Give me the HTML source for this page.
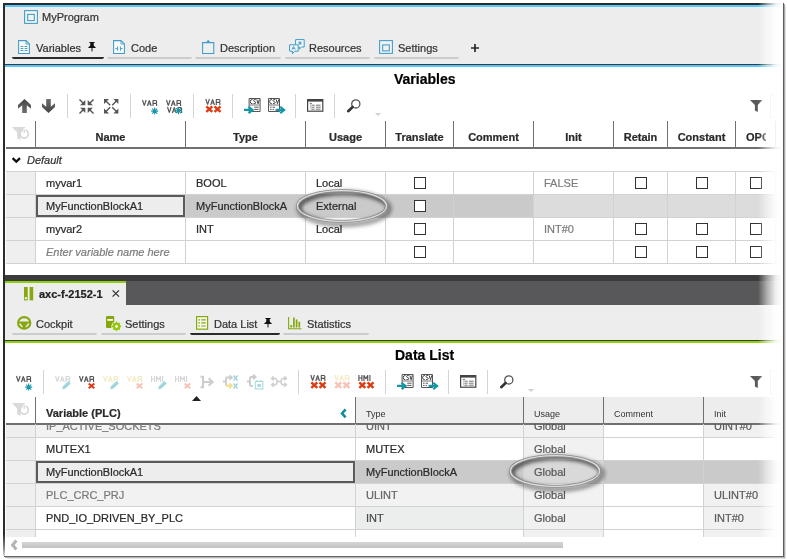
<!DOCTYPE html>
<html>
<head>
<meta charset="utf-8">
<title>PLCnext Engineer</title>
<style>
*{box-sizing:border-box;margin:0;padding:0}
html,body{width:787px;height:560px;overflow:hidden;background:#fff}
body{font-family:"Liberation Sans",sans-serif;font-size:11px;color:#333;position:relative}
.abs{position:absolute}
#frame{position:absolute;left:0;top:0;width:787px;height:560px;overflow:hidden;will-change:transform}
.t{position:absolute;white-space:nowrap;line-height:14px;-webkit-text-stroke:0.22px currentColor}
.b{font-weight:bold}
.i{font-style:italic}
.hl{position:absolute;height:1px;background:#d2d2d2}
.vl{position:absolute;width:1px;background:#d2d2d2}
.cb{position:absolute;width:12px;height:12px;border:1px solid #333;background:#fff}
.tabul{position:absolute;height:2px;background:#c9cdd0;border-radius:0 0 3px 3px}
.tabul.on{background:#2b2b2b}
.sep{position:absolute;width:1px;background:#d4d4d4}
svg{position:absolute;overflow:visible}
</style>
</head>
<body>
<div id="frame">

<!-- ===== TOP PANEL ===== -->
<div class="abs" style="left:5px;top:7px;width:778px;height:57px;background:#ecedec"></div>
<div class="abs" style="left:3px;top:3px;width:779px;height:2px;background:#2b2b2b"></div>
<div class="abs" style="left:5px;top:5px;width:778px;height:2px;background:#58c8fc"></div>
<div class="abs" style="left:5px;top:64px;width:778px;height:1px;background:#3a3a3a"></div>
<div class="abs" style="left:5px;top:65px;width:778px;height:2px;background:#54c6fb"></div>

<!-- title -->
<div class="t" style="left:42px;top:10px;font-size:11px">MyProgram</div>

<!-- tabs -->
<div class="t" style="left:36px;top:41px;font-size:11px">Variables</div>
<div class="tabul on" style="left:12px;top:57px;width:92px"></div>
<div class="t" style="left:131px;top:41px;font-size:11px">Code</div>
<div class="tabul" style="left:107px;top:57px;width:85px"></div>
<div class="t" style="left:220px;top:41px;font-size:11px">Description</div>
<div class="tabul" style="left:195px;top:57px;width:86px"></div>
<div class="t" style="left:309px;top:41px;font-size:11px">Resources</div>
<div class="tabul" style="left:285px;top:57px;width:85px"></div>
<div class="t" style="left:398px;top:41px;font-size:11px">Settings</div>
<div class="tabul" style="left:374px;top:57px;width:85px"></div>

<!-- Variables title -->
<div class="t b" style="left:394px;top:71px;font-size:14px;line-height:16px;color:#000">Variables</div>

<!-- ===== TOP TABLE ===== -->
<div class="abs" style="left:6px;top:172px;width:29px;height:91px;background:#efefef"></div>
<div class="abs" style="left:186px;top:195px;width:348px;height:22px;background:#cacaca"></div>
<div class="abs" style="left:534px;top:195px;width:248px;height:22px;background:#dcdcdc"></div>
<div class="abs" style="left:36px;top:195px;width:149px;height:22px;background:#ecedec;border:2px solid #5a5a5a"></div>
<div class="vl" style="left:35px;top:121px;height:27px;background:#707070"></div>
<div class="vl" style="left:185px;top:121px;height:27px;background:#707070"></div>
<div class="vl" style="left:305px;top:121px;height:27px;background:#707070"></div>
<div class="vl" style="left:385px;top:121px;height:27px;background:#707070"></div>
<div class="vl" style="left:453px;top:121px;height:27px;background:#707070"></div>
<div class="vl" style="left:533px;top:121px;height:27px;background:#707070"></div>
<div class="vl" style="left:613px;top:121px;height:27px;background:#707070"></div>
<div class="vl" style="left:667px;top:121px;height:27px;background:#707070"></div>
<div class="vl" style="left:735px;top:121px;height:27px;background:#707070"></div>
<div class="vl" style="left:775px;top:121px;height:27px;background:#707070"></div>
<div class="abs" style="left:6px;top:147px;width:777px;height:2px;background:#707070"></div>
<div class="hl" style="left:6px;top:171px;width:777px"></div>
<div class="hl" style="left:6px;top:194px;width:777px"></div>
<div class="hl" style="left:6px;top:217px;width:777px"></div>
<div class="hl" style="left:6px;top:240px;width:777px"></div>
<div class="hl" style="left:6px;top:263px;width:777px"></div>
<div class="vl" style="left:35px;top:172px;height:92px"></div>
<div class="vl" style="left:185px;top:172px;height:92px"></div>
<div class="vl" style="left:305px;top:172px;height:92px"></div>
<div class="vl" style="left:385px;top:172px;height:92px"></div>
<div class="vl" style="left:453px;top:172px;height:92px"></div>
<div class="vl" style="left:533px;top:172px;height:92px"></div>
<div class="vl" style="left:613px;top:172px;height:92px"></div>
<div class="vl" style="left:667px;top:172px;height:92px"></div>
<div class="vl" style="left:735px;top:172px;height:92px"></div>
<div class="vl" style="left:775px;top:172px;height:92px"></div>
<div class="t b" style="left:36px;width:149px;top:130px;text-align:center;color:#2a2a2a">Name</div>
<div class="t b" style="left:186px;width:119px;top:130px;text-align:center;color:#2a2a2a">Type</div>
<div class="t b" style="left:306px;width:79px;top:130px;text-align:center;color:#2a2a2a">Usage</div>
<div class="t b" style="left:386px;width:67px;top:130px;text-align:center;color:#2a2a2a">Translate</div>
<div class="t b" style="left:454px;width:79px;top:130px;text-align:center;color:#2a2a2a">Comment</div>
<div class="t b" style="left:534px;width:79px;top:130px;text-align:center;color:#2a2a2a">Init</div>
<div class="t b" style="left:614px;width:53px;top:130px;text-align:center;color:#2a2a2a">Retain</div>
<div class="t b" style="left:668px;width:67px;top:130px;text-align:center;color:#2a2a2a">Constant</div>
<div class="t b" style="left:746px;width:20px;overflow:hidden;top:130px;color:#2a2a2a">OPC</div>
<div class="t i" style="left:27px;top:153px;color:#333">Default</div>
<svg style="left:12px;top:157px" width="9" height="7" viewBox="0 0 9 7"><path d="M0.6 1.2 L4.3 4.6 L8 1.2" fill="none" stroke="#111" stroke-width="2.3"/></svg>
<div class="t" style="left:46px;top:176px;color:#2a2a2a">myvar1</div>
<div class="t" style="left:196px;top:176px;color:#2a2a2a">BOOL</div>
<div class="t" style="left:316px;top:176px;color:#2a2a2a">Local</div>
<div class="t" style="left:544px;top:176px;color:#7d7d7d">FALSE</div>
<div class="cb" style="left:414px;top:177px"></div>
<div class="cb" style="left:635px;top:177px"></div>
<div class="cb" style="left:696px;top:177px"></div>
<div class="cb" style="left:750px;top:177px"></div>
<div class="t" style="left:46px;top:199px;color:#2a2a2a">MyFunctionBlockA1</div>
<div class="t" style="left:196px;top:199px;color:#2a2a2a">MyFunctionBlockA</div>
<div class="t" style="left:316px;top:199px;color:#2a2a2a">External</div>
<div class="cb" style="left:414px;top:200px"></div>
<div class="t" style="left:46px;top:222px;color:#2a2a2a">myvar2</div>
<div class="t" style="left:196px;top:222px;color:#2a2a2a">INT</div>
<div class="t" style="left:316px;top:222px;color:#2a2a2a">Local</div>
<div class="t" style="left:544px;top:222px;color:#7d7d7d">INT#0</div>
<div class="cb" style="left:414px;top:223px"></div>
<div class="cb" style="left:635px;top:223px"></div>
<div class="cb" style="left:696px;top:223px"></div>
<div class="cb" style="left:750px;top:223px"></div>
<div class="t i" style="left:46px;top:245px;color:#7d7d7d">Enter variable name here</div>
<div class="cb" style="left:414px;top:246px"></div>
<div class="cb" style="left:635px;top:246px"></div>
<div class="cb" style="left:696px;top:246px"></div>
<div class="cb" style="left:750px;top:246px"></div>

<!-- ===== BOTTOM PANEL ===== -->
<div class="abs" style="left:5px;top:275px;width:778px;height:6px;background:#3b3b3d"></div>
<div class="abs" style="left:5px;top:281px;width:778px;height:24px;background:#58585a"></div>
<div class="abs" style="left:5px;top:305px;width:778px;height:35px;background:#ecedec"></div>
<div class="abs" style="left:5px;top:281px;width:121px;height:25px;background:#ecedec;border-top:2px solid #8ccf0a"></div>
<div class="abs" style="left:5px;top:340px;width:778px;height:1px;background:#3a3a3a"></div>
<div class="abs" style="left:5px;top:341px;width:778px;height:2px;background:#8fd400"></div>

<div class="t b" style="left:39px;top:287px;font-size:11px;color:#222">axc-f-2152-1</div>
<div class="t" style="left:36px;top:317px;font-size:11px">Cockpit</div>
<div class="tabul" style="left:12px;top:333px;width:85px"></div>
<div class="t" style="left:125px;top:317px;font-size:11px">Settings</div>
<div class="tabul" style="left:101px;top:333px;width:85px"></div>
<div class="t" style="left:214px;top:317px;font-size:11px">Data List</div>
<div class="tabul on" style="left:190px;top:333px;width:90px"></div>
<div class="t" style="left:307px;top:317px;font-size:11px">Statistics</div>
<div class="tabul" style="left:283px;top:333px;width:86px"></div>

<div class="t b" style="left:395px;top:347px;font-size:14px;line-height:16px;color:#000">Data List</div>

<!-- ===== BOTTOM TABLE ===== -->
<div class="abs" style="left:356px;top:397px;width:426px;height:26px;background:#ecedec"></div>
<div class="abs" style="left:6px;top:425px;width:29px;height:112px;background:#efefef"></div>
<div class="abs" style="left:36px;top:424px;width:567px;height:13px;background:#f2f2f2"></div>
<div class="abs" style="left:704px;top:424px;width:78px;height:13px;background:#f0f1f0"></div>
<div class="abs" style="left:524px;top:424px;width:79px;height:113px;background:#f0f1f0"></div>
<div class="abs" style="left:36px;top:484px;width:567px;height:22px;background:#f2f2f2"></div>
<div class="abs" style="left:704px;top:484px;width:78px;height:22px;background:#f0f1f0"></div>
<div class="abs" style="left:704px;top:507px;width:78px;height:22px;background:#f0f1f0"></div>
<div class="abs" style="left:704px;top:530px;width:78px;height:7px;background:#f0f1f0"></div>
<div class="abs" style="left:356px;top:507px;width:167px;height:22px;background:#eceeed"></div>
<div class="abs" style="left:356px;top:461px;width:426px;height:22px;background:#cacaca"></div>
<div class="abs" style="left:524px;top:461px;width:79px;height:22px;background:#d9d9d9"></div>
<div class="abs" style="left:36px;top:461px;width:319px;height:22px;background:#ecedec;border:2px solid #5a5a5a"></div>
<div class="vl" style="left:35px;top:397px;height:26px;background:#707070"></div>
<div class="vl" style="left:355px;top:397px;height:26px;background:#707070"></div>
<div class="vl" style="left:523px;top:397px;height:26px;background:#707070"></div>
<div class="vl" style="left:603px;top:397px;height:26px;background:#707070"></div>
<div class="vl" style="left:703px;top:397px;height:26px;background:#707070"></div>
<div class="abs" style="left:6px;top:423px;width:777px;height:2px;background:#707070"></div>
<div class="hl" style="left:6px;top:437px;width:777px"></div>
<div class="hl" style="left:6px;top:460px;width:777px"></div>
<div class="hl" style="left:6px;top:483px;width:777px"></div>
<div class="hl" style="left:6px;top:506px;width:777px"></div>
<div class="hl" style="left:6px;top:529px;width:777px"></div>
<div class="vl" style="left:35px;top:424px;height:113px"></div>
<div class="vl" style="left:355px;top:424px;height:113px"></div>
<div class="vl" style="left:523px;top:424px;height:113px"></div>
<div class="vl" style="left:603px;top:424px;height:113px"></div>
<div class="vl" style="left:703px;top:424px;height:113px"></div>
<div class="t b" style="left:46px;top:406px;color:#2a2a2a">Variable (PLC)</div>
<div class="t" style="left:366px;top:407px;font-size:9px;color:#333;-webkit-text-stroke:0">Type</div>
<div class="t" style="left:534px;top:407px;font-size:9px;color:#333;-webkit-text-stroke:0">Usage</div>
<div class="t" style="left:614px;top:407px;font-size:9px;color:#333;-webkit-text-stroke:0">Comment</div>
<div class="t" style="left:714px;top:407px;font-size:9px;color:#333;-webkit-text-stroke:0">Init</div>
<svg style="left:191.5px;top:396.4px" width="9" height="5" viewBox="0 0 9 5"><path d="M0 5 L4.5 0 L9 5Z" fill="#222"/></svg>
<svg style="left:339.6px;top:409.4px" width="7" height="9" viewBox="0 0 7 9"><path d="M5.6 0.4 L2 4.4 L5.6 8.4" fill="none" stroke="#0f8c99" stroke-width="2.5"/></svg>
<div class="abs" style="left:5px;top:424px;width:778px;height:113px;overflow:hidden">
<div class="t" style="left:41px;top:-5px;color:#7a7a7a">IP_ACTIVE_SOCKETS</div>
<div class="t" style="left:361px;top:-5px;color:#666">UINT</div>
<div class="t" style="left:529px;top:-5px;color:#585858">Global</div>
<div class="t" style="left:709px;top:-5px;color:#5c5c5c">UINT#0</div>
<div class="t" style="left:41px;top:18px;color:#2a2a2a">MUTEX1</div>
<div class="t" style="left:361px;top:18px;color:#2a2a2a">MUTEX</div>
<div class="t" style="left:529px;top:18px;color:#585858">Global</div>
<div class="t" style="left:41px;top:41px;color:#2a2a2a">MyFunctionBlockA1</div>
<div class="t" style="left:361px;top:41px;color:#2a2a2a">MyFunctionBlockA</div>
<div class="t" style="left:529px;top:41px;color:#585858">Global</div>
<div class="t" style="left:41px;top:64px;color:#7a7a7a">PLC_CRC_PRJ</div>
<div class="t" style="left:361px;top:64px;color:#666">ULINT</div>
<div class="t" style="left:529px;top:64px;color:#585858">Global</div>
<div class="t" style="left:709px;top:64px;color:#5c5c5c">ULINT#0</div>
<div class="t" style="left:41px;top:87px;color:#2a2a2a">PND_IO_DRIVEN_BY_PLC</div>
<div class="t" style="left:361px;top:87px;color:#4a4a4a">INT</div>
<div class="t" style="left:529px;top:87px;color:#585858">Global</div>
<div class="t" style="left:709px;top:87px;color:#5c5c5c">INT#0</div>
</div>
<div class="abs" style="left:22px;top:542px;width:541px;height:6px;background:linear-gradient(#d6d6d6,#c2c2c2)"></div>
<svg style="left:10px;top:540px" width="8" height="10" viewBox="0 0 8 10"><path d="M6.4 0.6 L2.6 5 L6.4 9.4" fill="none" stroke="#b4b4b4" stroke-width="3"/></svg>
<div class="abs" style="left:4px;top:556px;width:780px;height:1px;background:#666"></div><div class="abs" style="left:5px;top:557px;width:780px;height:1px;background:#b4b4b4"></div><div class="abs" style="left:7px;top:558px;width:779px;height:1px;background:#e6e6e6"></div>
<div class="abs" style="left:783px;top:3px;width:1px;height:554px;background:#5c5c5c"></div><div class="abs" style="left:784px;top:4px;width:1px;height:554px;background:#a8a8a8"></div><div class="abs" style="left:785px;top:6px;width:1px;height:553px;background:#e2e2e2"></div>

<!-- ICONS-BEGIN -->
<svg width="0" height="0" style="left:0;top:0"><defs><linearGradient id="gArrow" x1="0" y1="0" x2="0" y2="1"><stop offset="0" stop-color="#454545"/><stop offset="1" stop-color="#6e6e6e"/></linearGradient></defs></svg>
<svg style="left:17.5px;top:99px" width="13" height="14" viewBox="0 0 13 14" ><path d="M6.5,0 L13,6 L13,9.8 L8.8,6.2 L8.8,14 L4.2,14 L4.2,6.2 L0,9.8 L0,6 Z" fill="url(#gArrow)"/></svg>
<svg style="left:41.5px;top:99px" width="13" height="14" viewBox="0 0 13 14" ><g transform="translate(0,14) scale(1,-1)"><path d="M6.5,0 L13,6 L13,9.8 L8.8,6.2 L8.8,14 L4.2,14 L4.2,6.2 L0,9.8 L0,6 Z" fill="url(#gArrow)"/></g></svg>
<div class="sep" style="left:67px;top:94px;height:24px"></div>
<svg style="left:79.3px;top:98.5px" width="15" height="15" viewBox="0 0 15 15" ><g transform="translate(7.5,7.5) scale(1,1)"><path d="M-7,-7 L-2,-2" stroke="#555" stroke-width="1.4"/><path d="M-1.2,-6.4 V-1.2 H-6.4 Z" fill="#555"/></g><g transform="translate(7.5,7.5) scale(-1,1)"><path d="M-7,-7 L-2,-2" stroke="#555" stroke-width="1.4"/><path d="M-1.2,-6.4 V-1.2 H-6.4 Z" fill="#555"/></g><g transform="translate(7.5,7.5) scale(1,-1)"><path d="M-7,-7 L-2,-2" stroke="#555" stroke-width="1.4"/><path d="M-1.2,-6.4 V-1.2 H-6.4 Z" fill="#555"/></g><g transform="translate(7.5,7.5) scale(-1,-1)"><path d="M-7,-7 L-2,-2" stroke="#555" stroke-width="1.4"/><path d="M-1.2,-6.4 V-1.2 H-6.4 Z" fill="#555"/></g></svg>
<svg style="left:103.8px;top:98.8px" width="15" height="15" viewBox="0 0 15 15" ><g transform="translate(7.2,7.2) scale(1,1)"><path d="M-1,-1 L-6,-6" stroke="#555" stroke-width="1.4"/><path d="M-7.2,-2.2 V-7.2 H-2.2 Z" fill="#555"/></g><g transform="translate(7.2,7.2) scale(-1,1)"><path d="M-1,-1 L-6,-6" stroke="#555" stroke-width="1.4"/><path d="M-7.2,-2.2 V-7.2 H-2.2 Z" fill="#555"/></g><g transform="translate(7.2,7.2) scale(1,-1)"><path d="M-1,-1 L-6,-6" stroke="#555" stroke-width="1.4"/><path d="M-7.2,-2.2 V-7.2 H-2.2 Z" fill="#555"/></g><g transform="translate(7.2,7.2) scale(-1,-1)"><path d="M-1,-1 L-6,-6" stroke="#555" stroke-width="1.4"/><path d="M-7.2,-2.2 V-7.2 H-2.2 Z" fill="#555"/></g></svg>
<div class="sep" style="left:130px;top:94px;height:24px"></div>
<svg style="left:142px;top:100px" width="17" height="15" viewBox="0 0 17 15" ><path d="M0.5,0 L2.3,5.6 L4.1,0 M5.4,6 L7.3,0.4 L9.2,6 M6.1,4 L8.5,4 M11,6 L11,0.5 L13.6,0.5 Q14.6,0.5 14.6,1.5 L14.6,2.3 Q14.6,3.3 13.6,3.3 L11,3.3 M13.6,3.3 Q14.6,3.3 14.6,4.3 L14.6,6" fill="none" stroke="#555" stroke-width="1.15" stroke-linejoin="bevel"/><g transform="translate(9.2,7.6)"><g stroke="#1496a6" stroke-width="1.1" fill="none"><path d="M3.5,0 L3.5,7 M0,3.5 L7,3.5 M1,1 L6,6 M6,1 L1,6"/></g><circle cx="3.5" cy="3.5" r="1.3" fill="#1496a6"/></g></svg>
<svg style="left:166px;top:100px" width="17" height="15" viewBox="0 0 17 15" ><path d="M0.5,0 L2.3,5.6 L4.1,0 M5.4,6 L7.3,0.4 L9.2,6 M6.1,4 L8.5,4 M11,6 L11,0.5 L13.6,0.5 Q14.6,0.5 14.6,1.5 L14.6,2.3 Q14.6,3.3 13.6,3.3 L11,3.3 M13.6,3.3 Q14.6,3.3 14.6,4.3 L14.6,6" fill="none" stroke="#555" stroke-width="1.15" stroke-linejoin="bevel"/><g transform="translate(1,7)"><path d="M0.5,0 L2.3,5.6 L4.1,0 M5.4,6 L7.3,0.4 L9.2,6 M6.1,4 L8.5,4 M11,6 L11,0.5 L13.6,0.5 Q14.6,0.5 14.6,1.5 L14.6,2.3 Q14.6,3.3 13.6,3.3 L11,3.3 M13.6,3.3 Q14.6,3.3 14.6,4.3 L14.6,6" fill="none" stroke="#555" stroke-width="1.15" stroke-linejoin="bevel"/></g><g transform="translate(9,7.2)"><g stroke="#1496a6" stroke-width="1.1" fill="none"><path d="M3.5,0 L3.5,7 M0,3.5 L7,3.5 M1,1 L6,6 M6,1 L1,6"/></g><circle cx="3.5" cy="3.5" r="1.3" fill="#1496a6"/></g></svg>
<div class="sep" style="left:193px;top:94px;height:24px"></div>
<svg style="left:205px;top:99.4px" width="17" height="15" viewBox="0 0 17 15" ><g transform="translate(0.3,0)"><path d="M0.5,0 L2.3,5.6 L4.1,0 M5.4,6 L7.3,0.4 L9.2,6 M6.1,4 L8.5,4 M11,6 L11,0.5 L13.6,0.5 Q14.6,0.5 14.6,1.5 L14.6,2.3 Q14.6,3.3 13.6,3.3 L11,3.3 M13.6,3.3 Q14.6,3.3 14.6,4.3 L14.6,6" fill="none" stroke="#555" stroke-width="1.15" stroke-linejoin="bevel"/></g><g transform="translate(0.6,6.6)"><path d="M0.7,0.7 L6.7,6.3 M6.7,0.7 L0.7,6.3" stroke="#e03c14" stroke-width="2.4" fill="none"/><path d="M8.899999999999999,0.7 L14.9,6.3 M14.9,0.7 L8.899999999999999,6.3" stroke="#e03c14" stroke-width="2.4" fill="none"/></g></svg>
<div class="sep" style="left:232px;top:94px;height:24px"></div>
<svg style="left:243.6px;top:97.6px" width="17" height="16" viewBox="0 0 17 16" ><g transform="translate(4.6,0)"><path d="M0.5,0.5 H11.5 V13.5 H0.5 Z" fill="#fff" stroke="#555" stroke-width="1"/><path d="M3.9,1.4 Q1.6,1.4 1.6,3.6 Q1.6,5.8 3.9,5.8 M7.2,1.6 Q5,1 5,2.6 Q5.2,3.4 6.2,3.6 Q7.4,4 7.2,5 Q6.8,6 4.9,5.6 M8.2,1.4 L9.5,5.8 L10.8,1.4" fill="none" stroke="#444" stroke-width="1"/><path d="M1,7 H11" stroke="#555" stroke-width="0.8"/><path d="M5.6,9.2 H10 M5.6,11.4 H10" stroke="#555" stroke-width="1"/></g><g transform="translate(0,8.2)"><path d="M0,3.7 H8 M4.6,0.5 L8.6,3.7 L4.6,6.9" fill="none" stroke="#1496a6" stroke-width="2.1"/></g></svg>
<svg style="left:267.6px;top:97.6px" width="17" height="16" viewBox="0 0 17 16" ><g transform="translate(0,0)"><path d="M0.5,0.5 H11.5 V13.5 H0.5 Z" fill="#fff" stroke="#555" stroke-width="1"/><path d="M3.9,1.4 Q1.6,1.4 1.6,3.6 Q1.6,5.8 3.9,5.8 M7.2,1.6 Q5,1 5,2.6 Q5.2,3.4 6.2,3.6 Q7.4,4 7.2,5 Q6.8,6 4.9,5.6 M8.2,1.4 L9.5,5.8 L10.8,1.4" fill="none" stroke="#444" stroke-width="1"/><path d="M1,7 H11" stroke="#555" stroke-width="0.8"/><path d="M2,9.2 H3.6 M4.6,9.2 H7 M2,11.4 H3.6 M4.6,11.4 H6" stroke="#555" stroke-width="1"/></g><g transform="translate(7.6,8.2)"><path d="M0,3.7 H8 M4.6,0.5 L8.6,3.7 L4.6,6.9" fill="none" stroke="#1496a6" stroke-width="2.1"/></g></svg>
<div class="sep" style="left:295px;top:94px;height:24px"></div>
<svg style="left:306.6px;top:98.6px" width="17" height="13" viewBox="0 0 17 13" ><rect x="0.6" y="0.6" width="15.2" height="11.6" fill="#fff" stroke="#444" stroke-width="1.2"/><path d="M0.6,1.6 H15.8" stroke="#444" stroke-width="2"/><path d="M2.6,4.4 H5 M4.4,6.2 H7.6 M8.8,6.2 H13.6 M4.4,8.2 H7.6 M8.8,8.2 H13.6 M4.4,10.2 H7.6 M8.8,10.2 H13.6" stroke="#666" stroke-width="0.9" fill="none"/><path d="M3.6,4.4 V10.4" stroke="#bbb" stroke-width="0.8"/></svg>
<div class="sep" style="left:334px;top:94px;height:24px"></div>
<svg style="left:347.4px;top:98.6px" width="14" height="14" viewBox="0 0 14 14" ><circle cx="8.8" cy="4.9" r="4.1" fill="#fff" stroke="#555" stroke-width="1.3"/><path d="M5.6,8 L1.2,12.2" stroke="#333" stroke-width="2.6" stroke-linecap="round"/></svg>
<svg style="left:375.3px;top:112.6px" width="6" height="3" viewBox="0 0 6 3" ><path d="M0,0 H6 L3,3Z" fill="#d0d0d0"/></svg>
<svg style="left:750.2px;top:100px" width="13" height="12" viewBox="0 0 13 12" ><path d="M0,0 H12.4 L7.8,5 V12 L4.9,10.4 V5 Z" fill="#5a5a5a"/></svg>
<div class="abs" style="left:770px;top:94px;width:12px;height:24px;border:1px solid #dde3e3;border-right:none"></div>
<svg style="left:12px;top:127.2px" width="18" height="14" viewBox="0 0 18 14" ><path d="M0,0 H13.6 L8.6,5.4 V13 L5.2,11.2 V5.4 Z" fill="#dadada"/><circle cx="12.2" cy="7" r="4.1" fill="#fff" stroke="#d6d6d6" stroke-width="1.7"/><path d="M12.2,1.8 V5.4" stroke="#fff" stroke-width="2.6"/><path d="M12.2,2.6 V6" stroke="#d6d6d6" stroke-width="1.3"/></svg>
<svg style="left:16px;top:376.2px" width="17" height="15" viewBox="0 0 17 15" ><path d="M0.5,0 L2.3,5.6 L4.1,0 M5.4,6 L7.3,0.4 L9.2,6 M6.1,4 L8.5,4 M11,6 L11,0.5 L13.6,0.5 Q14.6,0.5 14.6,1.5 L14.6,2.3 Q14.6,3.3 13.6,3.3 L11,3.3 M13.6,3.3 Q14.6,3.3 14.6,4.3 L14.6,6" fill="none" stroke="#555" stroke-width="1.15" stroke-linejoin="bevel"/><g transform="translate(9.2,7.6)"><g stroke="#1496a6" stroke-width="1.1" fill="none"><path d="M3.5,0 L3.5,7 M0,3.5 L7,3.5 M1,1 L6,6 M6,1 L1,6"/></g><circle cx="3.5" cy="3.5" r="1.3" fill="#1496a6"/></g></svg>
<div class="sep" style="left:43px;top:370px;height:24px"></div>
<svg style="left:55px;top:376.2px" width="17" height="15" viewBox="0 0 17 15" ><path d="M0.5,0 L2.3,5.6 L4.1,0 M5.4,6 L7.3,0.4 L9.2,6 M6.1,4 L8.5,4 M11,6 L11,0.5 L13.6,0.5 Q14.6,0.5 14.6,1.5 L14.6,2.3 Q14.6,3.3 13.6,3.3 L11,3.3 M13.6,3.3 Q14.6,3.3 14.6,4.3 L14.6,6" fill="none" stroke="#d6d6d6" stroke-width="1.15" stroke-linejoin="bevel"/><g transform="translate(7,4.8)"><path d="M0.2,8.6 L1,5.4 L6.4,0.2 L8.8,2.6 L3.4,7.8 Z" fill="#9dd6dc"/></g></svg>
<svg style="left:79px;top:376.2px" width="17" height="15" viewBox="0 0 17 15" ><path d="M0.5,0 L2.3,5.6 L4.1,0 M5.4,6 L7.3,0.4 L9.2,6 M6.1,4 L8.5,4 M11,6 L11,0.5 L13.6,0.5 Q14.6,0.5 14.6,1.5 L14.6,2.3 Q14.6,3.3 13.6,3.3 L11,3.3 M13.6,3.3 Q14.6,3.3 14.6,4.3 L14.6,6" fill="none" stroke="#555" stroke-width="1.15" stroke-linejoin="bevel"/><g transform="translate(9,6.8)"><path d="M0.7,0.7 L6.3,5.5 M6.3,0.7 L0.7,5.5" stroke="#e03c14" stroke-width="2.1" fill="none"/></g></svg>
<svg style="left:103px;top:376.2px" width="17" height="15" viewBox="0 0 17 15" ><path d="M0.5,0 L2.3,5.6 L4.1,0 M5.4,6 L7.3,0.4 L9.2,6 M6.1,4 L8.5,4 M11,6 L11,0.5 L13.6,0.5 Q14.6,0.5 14.6,1.5 L14.6,2.3 Q14.6,3.3 13.6,3.3 L11,3.3 M13.6,3.3 Q14.6,3.3 14.6,4.3 L14.6,6" fill="none" stroke="#f5ebc2" stroke-width="1.15" stroke-linejoin="bevel"/><g transform="translate(7,4.8)"><path d="M0.2,8.6 L1,5.4 L6.4,0.2 L8.8,2.6 L3.4,7.8 Z" fill="#9dd6dc"/></g></svg>
<svg style="left:127px;top:376.2px" width="17" height="15" viewBox="0 0 17 15" ><path d="M0.5,0 L2.3,5.6 L4.1,0 M5.4,6 L7.3,0.4 L9.2,6 M6.1,4 L8.5,4 M11,6 L11,0.5 L13.6,0.5 Q14.6,0.5 14.6,1.5 L14.6,2.3 Q14.6,3.3 13.6,3.3 L11,3.3 M13.6,3.3 Q14.6,3.3 14.6,4.3 L14.6,6" fill="none" stroke="#f5ebc2" stroke-width="1.15" stroke-linejoin="bevel"/><g transform="translate(9,6.8)"><path d="M0.7,0.7 L6.3,5.5 M6.3,0.7 L0.7,5.5" stroke="#f6c3b6" stroke-width="2.1" fill="none"/></g></svg>
<svg style="left:151px;top:376.2px" width="17" height="15" viewBox="0 0 17 15" ><path d="M0.6,0 L0.6,6 M0.6,3 L3.6,3 M3.6,0 L3.6,6 M5.6,6 L5.6,0.3 L7.5,4 L9.4,0.3 L9.4,6 M11.6,0 L11.6,6" fill="none" stroke="#d6d6d6" stroke-width="1.15" stroke-linejoin="bevel"/><g transform="translate(7,4.8)"><path d="M0.2,8.6 L1,5.4 L6.4,0.2 L8.8,2.6 L3.4,7.8 Z" fill="#9dd6dc"/></g></svg>
<svg style="left:175px;top:376.2px" width="17" height="15" viewBox="0 0 17 15" ><path d="M0.6,0 L0.6,6 M0.6,3 L3.6,3 M3.6,0 L3.6,6 M5.6,6 L5.6,0.3 L7.5,4 L9.4,0.3 L9.4,6 M11.6,0 L11.6,6" fill="none" stroke="#d6d6d6" stroke-width="1.15" stroke-linejoin="bevel"/><g transform="translate(9,6.8)"><path d="M0.7,0.7 L6.3,5.5 M6.3,0.7 L0.7,5.5" stroke="#f6c3b6" stroke-width="2.1" fill="none"/></g></svg>
<svg style="left:200px;top:376px" width="14" height="12" viewBox="0 0 14 12" ><path d="M0.5,0.8 H3 V11.2 H0.5" fill="none" stroke="#cdcdcd" stroke-width="2"/><path d="M3,6 H12 M8.6,2.2 L12.6,6 L8.6,9.8" fill="none" stroke="#cdcdcd" stroke-width="2.1"/></svg>
<svg style="left:223px;top:375px" width="16" height="15" viewBox="0 0 16 15" ><path d="M0,6.5 H3 M3,2.5 V10.8 M3,2.5 H8.5 M6.6,0.4 L9,2.5 L6.6,4.6" fill="none" stroke="#cdcdcd" stroke-width="1.9"/><path d="M3,10.8 H8.5 M6.4,8.4 L9,10.8 L6.4,13.2" fill="none" stroke="#f1e291" stroke-width="1.9"/><path d="M10.6,0.6 L14.6,5.4 M14.6,0.6 L10.6,5.4 M10.6,8.6 L14.6,13.4 M14.6,8.6 L10.6,13.4" stroke="#9dd6dc" stroke-width="1.5"/></svg>
<svg style="left:247px;top:374px" width="17" height="16" viewBox="0 0 17 16" ><path d="M0,7.5 H3 M3,3 V12 M3,3 H8 M6,0.6 L8.6,3 L6,5.4 M3,12 H6" fill="none" stroke="#cdcdcd" stroke-width="1.9"/><rect x="8.2" y="7.4" width="7.6" height="7.6" fill="#fff" stroke="#a6dbe0" stroke-width="1.1"/><rect x="10.4" y="10" width="3.4" height="3" fill="#a6dbe0"/><path d="M10,6 V8 M14,6 V8" stroke="#a6dbe0" stroke-width="1.1"/></svg>
<svg style="left:271px;top:376px" width="16" height="12" viewBox="0 0 16 12" ><path d="M4,2.4 H1 M2.8,0.4 L0.6,2.4 L2.8,4.4 M4,8.8 H1 M2.8,6.8 L0.6,8.8 L2.8,10.8 M4,2.4 Q6,2.4 6,5.6 Q6,8.8 4,8.8 M6,5.6 H10 M12,2.4 H15 M13.2,0.4 L15.4,2.4 L13.2,4.4 M12,8.8 H15 M13.2,6.8 L15.4,8.8 L13.2,10.8 M12,2.4 Q10,2.4 10,5.6 Q10,8.8 12,8.8" fill="none" stroke="#cfcfcf" stroke-width="1.5"/></svg>
<div class="sep" style="left:298px;top:370px;height:24px"></div>
<svg style="left:310px;top:375.4px" width="17" height="15" viewBox="0 0 17 15" ><g transform="translate(0.3,0)"><path d="M0.5,0 L2.3,5.6 L4.1,0 M5.4,6 L7.3,0.4 L9.2,6 M6.1,4 L8.5,4 M11,6 L11,0.5 L13.6,0.5 Q14.6,0.5 14.6,1.5 L14.6,2.3 Q14.6,3.3 13.6,3.3 L11,3.3 M13.6,3.3 Q14.6,3.3 14.6,4.3 L14.6,6" fill="none" stroke="#555" stroke-width="1.15" stroke-linejoin="bevel"/></g><g transform="translate(0.6,6.6)"><path d="M0.7,0.7 L6.7,6.3 M6.7,0.7 L0.7,6.3" stroke="#e03c14" stroke-width="2.4" fill="none"/><path d="M8.899999999999999,0.7 L14.9,6.3 M14.9,0.7 L8.899999999999999,6.3" stroke="#e03c14" stroke-width="2.4" fill="none"/></g></svg>
<svg style="left:334px;top:375.4px" width="17" height="15" viewBox="0 0 17 15" ><g transform="translate(0.3,0)"><path d="M0.5,0 L2.3,5.6 L4.1,0 M5.4,6 L7.3,0.4 L9.2,6 M6.1,4 L8.5,4 M11,6 L11,0.5 L13.6,0.5 Q14.6,0.5 14.6,1.5 L14.6,2.3 Q14.6,3.3 13.6,3.3 L11,3.3 M13.6,3.3 Q14.6,3.3 14.6,4.3 L14.6,6" fill="none" stroke="#f5ebc2" stroke-width="1.15" stroke-linejoin="bevel"/></g><g transform="translate(0.6,6.6)"><path d="M0.7,0.7 L6.7,6.3 M6.7,0.7 L0.7,6.3" stroke="#f6c3b6" stroke-width="2.4" fill="none"/><path d="M8.899999999999999,0.7 L14.9,6.3 M14.9,0.7 L8.899999999999999,6.3" stroke="#f6c3b6" stroke-width="2.4" fill="none"/></g></svg>
<svg style="left:358px;top:375.4px" width="17" height="15" viewBox="0 0 17 15" ><g transform="translate(0.3,0)"><path d="M0.6,0 L0.6,6 M0.6,3 L3.6,3 M3.6,0 L3.6,6 M5.6,6 L5.6,0.3 L7.5,4 L9.4,0.3 L9.4,6 M11.6,0 L11.6,6" fill="none" stroke="#555" stroke-width="1.15" stroke-linejoin="bevel"/></g><g transform="translate(0.6,6.6)"><path d="M0.7,0.7 L6.7,6.3 M6.7,0.7 L0.7,6.3" stroke="#e03c14" stroke-width="2.4" fill="none"/><path d="M8.899999999999999,0.7 L14.9,6.3 M14.9,0.7 L8.899999999999999,6.3" stroke="#e03c14" stroke-width="2.4" fill="none"/></g></svg>
<div class="sep" style="left:385px;top:370px;height:24px"></div>
<svg style="left:396.6px;top:373.6px" width="17" height="16" viewBox="0 0 17 16" ><g transform="translate(4.6,0)"><path d="M0.5,0.5 H11.5 V13.5 H0.5 Z" fill="#fff" stroke="#555" stroke-width="1"/><path d="M3.9,1.4 Q1.6,1.4 1.6,3.6 Q1.6,5.8 3.9,5.8 M7.2,1.6 Q5,1 5,2.6 Q5.2,3.4 6.2,3.6 Q7.4,4 7.2,5 Q6.8,6 4.9,5.6 M8.2,1.4 L9.5,5.8 L10.8,1.4" fill="none" stroke="#444" stroke-width="1"/><path d="M1,7 H11" stroke="#555" stroke-width="0.8"/><path d="M5.6,9.2 H10 M5.6,11.4 H10" stroke="#555" stroke-width="1"/></g><g transform="translate(0,8.2)"><path d="M0,3.7 H8 M4.6,0.5 L8.6,3.7 L4.6,6.9" fill="none" stroke="#1496a6" stroke-width="2.1"/></g></svg>
<svg style="left:420.8px;top:373.6px" width="17" height="16" viewBox="0 0 17 16" ><g transform="translate(0,0)"><path d="M0.5,0.5 H11.5 V13.5 H0.5 Z" fill="#fff" stroke="#555" stroke-width="1"/><path d="M3.9,1.4 Q1.6,1.4 1.6,3.6 Q1.6,5.8 3.9,5.8 M7.2,1.6 Q5,1 5,2.6 Q5.2,3.4 6.2,3.6 Q7.4,4 7.2,5 Q6.8,6 4.9,5.6 M8.2,1.4 L9.5,5.8 L10.8,1.4" fill="none" stroke="#444" stroke-width="1"/><path d="M1,7 H11" stroke="#555" stroke-width="0.8"/><path d="M2,9.2 H3.6 M4.6,9.2 H7 M2,11.4 H3.6 M4.6,11.4 H6" stroke="#555" stroke-width="1"/></g><g transform="translate(7.6,8.2)"><path d="M0,3.7 H8 M4.6,0.5 L8.6,3.7 L4.6,6.9" fill="none" stroke="#1496a6" stroke-width="2.1"/></g></svg>
<div class="sep" style="left:448px;top:370px;height:24px"></div>
<svg style="left:459.8px;top:375px" width="17" height="13" viewBox="0 0 17 13" ><rect x="0.6" y="0.6" width="15.2" height="11.6" fill="#fff" stroke="#444" stroke-width="1.2"/><path d="M0.6,1.6 H15.8" stroke="#444" stroke-width="2"/><path d="M2.6,4.4 H5 M4.4,6.2 H7.6 M8.8,6.2 H13.6 M4.4,8.2 H7.6 M8.8,8.2 H13.6 M4.4,10.2 H7.6 M8.8,10.2 H13.6" stroke="#666" stroke-width="0.9" fill="none"/><path d="M3.6,4.4 V10.4" stroke="#bbb" stroke-width="0.8"/></svg>
<div class="sep" style="left:487px;top:370px;height:24px"></div>
<svg style="left:500.4px;top:374.8px" width="14" height="14" viewBox="0 0 14 14" ><circle cx="8.8" cy="4.9" r="4.1" fill="#fff" stroke="#555" stroke-width="1.3"/><path d="M5.6,8 L1.2,12.2" stroke="#333" stroke-width="2.6" stroke-linecap="round"/></svg>
<svg style="left:528.4px;top:388.6px" width="6" height="3" viewBox="0 0 6 3" ><path d="M0,0 H6 L3,3Z" fill="#d0d0d0"/></svg>
<svg style="left:750.2px;top:376px" width="13" height="12" viewBox="0 0 13 12" ><path d="M0,0 H12.4 L7.8,5 V12 L4.9,10.4 V5 Z" fill="#5a5a5a"/></svg>
<div class="abs" style="left:770px;top:370px;width:12px;height:24px;border:1px solid #dde3e3;border-right:none"></div>
<svg style="left:12px;top:403.2px" width="18" height="14" viewBox="0 0 18 14" ><path d="M0,0 H13.6 L8.6,5.4 V13 L5.2,11.2 V5.4 Z" fill="#dadada"/><circle cx="12.2" cy="7" r="4.1" fill="#fff" stroke="#d6d6d6" stroke-width="1.7"/><path d="M12.2,1.8 V5.4" stroke="#fff" stroke-width="2.6"/><path d="M12.2,2.6 V6" stroke="#d6d6d6" stroke-width="1.3"/></svg>
<!-- ICONS-END -->

<!-- TABICONS-BEGIN -->
<svg style="left:18px;top:40px" width="12" height="14" viewBox="0 0 12 14" ><path d="M0.6,0.6 H8 L11.4,4 V13.4 H0.6 Z" fill="#fafcfc" stroke="#409bc7" stroke-width="1.05" stroke-linejoin="miter"/><path d="M8,0.6 V4 H11.4" fill="none" stroke="#409bc7" stroke-width="0.9"/><path d="M2.6,6.5 H5.4 M6.6,6.5 H9.4 M2.6,8.5 H5.4 M6.6,8.5 H9.4 M2.6,10.5 H5.4 M6.6,10.5 H9.4" stroke="#409bc7" stroke-width="0.95"/></svg>
<svg style="left:88px;top:42.3px" width="8" height="10" viewBox="0 0 8 10" ><path d="M1.4,0 H6.6 V1 H5.6 L5.9,4 Q7.6,4.6 7.8,6 H0.2 Q0.4,4.6 2.1,4 L2.4,1 H1.4 Z" fill="#111"/><path d="M4,6 V9.4" stroke="#111" stroke-width="1"/></svg>
<svg style="left:113px;top:40px" width="12" height="14" viewBox="0 0 12 14" ><path d="M0.6,0.6 H8 L11.4,4 V13.4 H0.6 Z" fill="#fafcfc" stroke="#409bc7" stroke-width="1.05" stroke-linejoin="miter"/><path d="M8,0.6 V4 H11.4" fill="none" stroke="#409bc7" stroke-width="0.9"/><path d="M2.4,8.6 H4.6 M4.6,6.4 V10.8 M7.4,6.4 V10.8 M7.4,8.6 H9.6" stroke="#409bc7" stroke-width="0.95" fill="none"/></svg>
<svg style="left:202px;top:39.4px" width="13" height="15" viewBox="0 0 13 15" ><path d="M0.6,3.6 H11.8 V14.4 H0.6 Z" fill="#eef0f0" stroke="#409bc7" stroke-width="1.05"/><path d="M4.2,3.4 L5.6,1.2 H6.8 L8.2,3.4 Z" fill="#409bc7"/></svg>
<svg style="left:289px;top:39.3px" width="16" height="16" viewBox="0 0 16 16" ><path d="M6.6,0.6 H15.2 V8 H12.6 L10.4,10 V8 H6.6 Z" fill="#f4f8fa" stroke="#409bc7" stroke-width="1" stroke-linejoin="round"/><path d="M0.6,5.8 H9.2 V12.2 H5.6 L3.4,14.8 V12.2 H0.6 Z" fill="#f4f8fa" stroke="#409bc7" stroke-width="1" stroke-linejoin="round"/><path d="M2.9,10.6 L4.6,7.2 L6.3,10.6 M3.5,9.6 H5.7" fill="none" stroke="#409bc7" stroke-width="0.9"/><path d="M11,2.2 V6 M9.4,3.2 L12.6,5 M12.6,3.2 L9.4,5" stroke="#409bc7" stroke-width="0.9"/></svg>
<svg style="left:379px;top:40px" width="14" height="14" viewBox="0 0 14 14" ><rect x="0.6" y="0.6" width="12.8" height="12.8" fill="#f1f3f3" stroke="#409bc7" stroke-width="1.05"/><rect x="3.7" y="4.9" width="6.6" height="6" fill="none" stroke="#409bc7" stroke-width="1.05"/></svg>
<svg style="left:24px;top:10px" width="14" height="14" viewBox="0 0 14 14" ><rect x="0.6" y="0.6" width="12.8" height="12.8" fill="#f1f3f3" stroke="#409bc7" stroke-width="1.05"/><rect x="3.7" y="4.4" width="6.6" height="6.2" fill="none" stroke="#409bc7" stroke-width="1.05"/></svg>
<svg style="left:471px;top:44.4px" width="8" height="8" viewBox="0 0 8 8" ><path d="M4,0 V8 M0,4 H8" stroke="#2a2a2a" stroke-width="1.7"/></svg>
<svg style="left:23.6px;top:287.2px" width="10" height="13.4" viewBox="0 0 10 13.4" ><rect x="0" y="0" width="3.7" height="13.4" fill="#86a80e"/><rect x="5.6" y="0" width="3.6" height="13.4" fill="#86a80e"/><rect x="0.9" y="10.2" width="1.9" height="2" fill="#fff"/></svg>
<svg style="left:112px;top:290.4px" width="8" height="7" viewBox="0 0 8 7" ><path d="M0.6,0.4 L7,6.6 M7,0.4 L0.6,6.6" stroke="#333" stroke-width="1.3"/></svg>
<svg style="left:16.9px;top:316.2px" width="15" height="14" viewBox="0 0 15 14" ><ellipse cx="7.2" cy="6.9" rx="6.1" ry="5.8" fill="none" stroke="#86a80e" stroke-width="2.1"/><path d="M1.2,5.4 H13.2 V7.2 H11.2 L8.6,10.6 V12.6 H5.8 V10.6 L3.2,7.2 H1.2 Z" fill="#86a80e"/></svg>
<svg style="left:106px;top:316px" width="16" height="16" viewBox="0 0 16 16" ><rect x="0" y="0" width="8.2" height="12" rx="1" fill="#86a80e"/><rect x="1.3" y="3" width="5.6" height="1.8" fill="#fff"/><g transform="translate(5.9,5.8)"><circle cx="4.6" cy="4.6" r="5.2" fill="#ecedec"/><circle cx="4.6" cy="4.6" r="2.5" fill="none" stroke="#94c800" stroke-width="2.2"/><path d="M7.20,4.60 L9.20,4.60 M6.44,6.44 L7.85,7.85 M4.60,7.20 L4.60,9.20 M2.76,6.44 L1.35,7.85 M2.00,4.60 L0.00,4.60 M2.76,2.76 L1.35,1.35 M4.60,2.00 L4.60,0.00 M6.44,2.76 L7.85,1.35 " stroke="#94c800" stroke-width="1.7"/><circle cx="4.6" cy="4.6" r="1" fill="#fff"/></g></svg>
<svg style="left:196px;top:316.2px" width="12.4" height="14" viewBox="0 0 12.4 14" ><rect x="0.6" y="0.6" width="11" height="12.6" fill="#f6f7f2" stroke="#86a80e" stroke-width="1.2"/><path d="M2.4,3.8 H4 M5.2,3.8 H9.8 M2.4,6.9 H4 M5.2,6.9 H9.8 M2.4,10 H4 M5.2,10 H9.8" stroke="#86a80e" stroke-width="1.2"/></svg>
<svg style="left:264.3px;top:318.3px" width="8" height="10" viewBox="0 0 8 10" ><path d="M1.4,0 H6.6 V1 H5.6 L5.9,4 Q7.6,4.6 7.8,6 H0.2 Q0.4,4.6 2.1,4 L2.4,1 H1.4 Z" fill="#111"/><path d="M4,6 V9.4" stroke="#111" stroke-width="1"/></svg>
<svg style="left:288.2px;top:316.6px" width="14" height="13" viewBox="0 0 14 13" ><path d="M0.6,0 V11.8 H13.4" fill="none" stroke="#86a80e" stroke-width="1.1"/><path d="M3.2,8 V10.4 M5.9,0.6 V10.4 M8.6,2.6 V10.4 M11.3,4.8 V10.4" stroke="#86a80e" stroke-width="1.7"/></svg>
<!-- TABICONS-END -->

<!-- ELLIPSES -->
<svg style="left:282px;top:175.5px" width="120" height="60" viewBox="0 0 120 60">
<defs><filter id="bl342" x="-20%" y="-40%" width="140%" height="180%"><feGaussianBlur stdDeviation="2.1"/></filter>
<clipPath id="cp342"><ellipse cx="60" cy="30" rx="43.6" ry="14.4"/></clipPath></defs>
<ellipse cx="62.2" cy="32.6" rx="45.2" ry="16.0" fill="none" stroke="#000" stroke-opacity="0.5" stroke-width="4" filter="url(#bl342)"/>
<g clip-path="url(#cp342)"><ellipse cx="61.6" cy="32" rx="45.1" ry="15.9" fill="none" stroke="#000" stroke-opacity="0.38" stroke-width="4" filter="url(#bl342)"/></g>
<ellipse cx="60" cy="30" rx="44.6" ry="15.4" fill="none" stroke="#8a8a8a" stroke-width="2.9"/>
<ellipse cx="60" cy="30" rx="44.6" ry="15.4" fill="none" stroke="#dedede" stroke-width="1.3"/>
</svg>
<svg style="left:495px;top:441.3px" width="120" height="60" viewBox="0 0 120 60">
<defs><filter id="bl555" x="-20%" y="-40%" width="140%" height="180%"><feGaussianBlur stdDeviation="2.1"/></filter>
<clipPath id="cp555"><ellipse cx="60" cy="30" rx="43.6" ry="14.4"/></clipPath></defs>
<ellipse cx="62.2" cy="32.6" rx="45.2" ry="16.0" fill="none" stroke="#000" stroke-opacity="0.5" stroke-width="4" filter="url(#bl555)"/>
<g clip-path="url(#cp555)"><ellipse cx="61.6" cy="32" rx="45.1" ry="15.9" fill="none" stroke="#000" stroke-opacity="0.38" stroke-width="4" filter="url(#bl555)"/></g>
<ellipse cx="60" cy="30" rx="44.6" ry="15.4" fill="none" stroke="#8a8a8a" stroke-width="2.9"/>
<ellipse cx="60" cy="30" rx="44.6" ry="15.4" fill="none" stroke="#dedede" stroke-width="1.3"/>
</svg>

<!-- right fade -->
<div class="abs" style="left:758px;top:0px;width:25px;height:556px;background:linear-gradient(to right,rgba(255,255,255,0) 0%,rgba(255,255,255,0.5) 35%,rgba(255,255,255,0.9) 70%,#fff 95%)"></div>
<!-- frame borders -->
<div class="abs" style="left:3px;top:3px;width:2px;height:553px;background:linear-gradient(to bottom,#2b2b2b 0,#2b2b2b 531px,#8a8a8a 545px,#d8d8d8 553px)"></div>

</div>
</body>
</html>
